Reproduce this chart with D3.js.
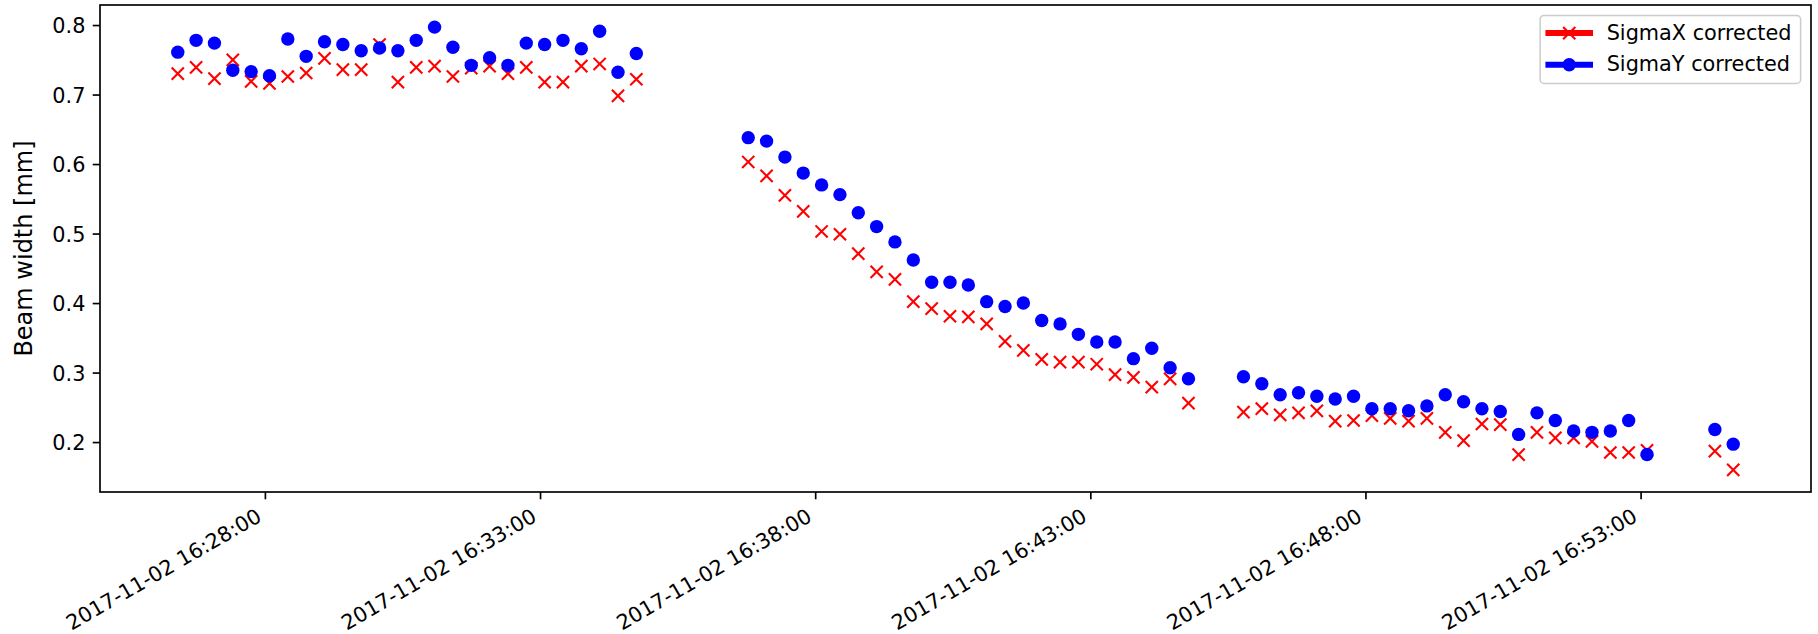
<!DOCTYPE html>
<html>
<head>
<meta charset="utf-8">
<script src="https://cdn.jsdelivr.net/npm/d3@7"></script>
<style>
  body { margin: 0; background: #fff; }
  svg text { font-family: 'DejaVu Sans', sans-serif; fill: #000; }
</style>
</head>
<body>
<div id="chart"></div>
<script>
// Beam width scan, 2017-11-02
const runDate = '2017-11-02';

const sampleTimes = [
  '16:26:25', '16:26:45', '16:27:05', '16:27:25', '16:27:45', '16:28:05', '16:28:25', '16:28:45',
  '16:29:05', '16:29:25', '16:29:45', '16:30:05', '16:30:25', '16:30:45', '16:31:05', '16:31:25',
  '16:31:45', '16:32:05', '16:32:25', '16:32:45', '16:33:05', '16:33:25', '16:33:45', '16:34:05',
  '16:34:25', '16:34:45',
  '16:36:47', '16:37:07', '16:37:27', '16:37:47', '16:38:07', '16:38:27', '16:38:47', '16:39:07',
  '16:39:27', '16:39:47', '16:40:07', '16:40:27', '16:40:47', '16:41:07', '16:41:27', '16:41:47',
  '16:42:07', '16:42:27', '16:42:47', '16:43:07', '16:43:27', '16:43:47', '16:44:07', '16:44:27',
  '16:44:47',
  '16:45:47', '16:46:07', '16:46:27', '16:46:47', '16:47:07', '16:47:27', '16:47:47', '16:48:07',
  '16:48:27', '16:48:47', '16:49:07', '16:49:27', '16:49:47', '16:50:07', '16:50:27', '16:50:47',
  '16:51:07', '16:51:27', '16:51:47', '16:52:07', '16:52:27', '16:52:47', '16:53:07',
  '16:54:21', '16:54:41'
];

const sigmaX = [
  0.730, 0.739, 0.723, 0.750, 0.719, 0.716, 0.726, 0.731, 0.752, 0.736, 0.736, 0.772, 0.718,
  0.739, 0.741, 0.726, 0.738, 0.741, 0.730, 0.739, 0.718, 0.718, 0.741, 0.744, 0.698, 0.722,
  0.603, 0.583, 0.555, 0.532, 0.503, 0.499, 0.471, 0.445, 0.434, 0.402, 0.392, 0.381, 0.380,
  0.370, 0.345, 0.332, 0.319, 0.315, 0.315, 0.312, 0.297, 0.293, 0.279, 0.291, 0.256,
  0.243, 0.248, 0.239, 0.242, 0.245, 0.230, 0.231, 0.238, 0.234, 0.230, 0.234, 0.214, 0.202,
  0.226, 0.225, 0.182, 0.214, 0.206, 0.206, 0.201, 0.185, 0.185, 0.188,
  0.187, 0.160
];

const sigmaY = [
  0.761, 0.778, 0.774, 0.735, 0.733, 0.727, 0.780, 0.755, 0.776, 0.772, 0.763, 0.767, 0.763,
  0.778, 0.797, 0.768, 0.742, 0.753, 0.742, 0.774, 0.772, 0.778, 0.766, 0.791, 0.732, 0.759,
  0.638, 0.633, 0.610, 0.587, 0.570, 0.556, 0.530, 0.510, 0.488, 0.462, 0.430, 0.430, 0.426,
  0.402, 0.395, 0.400, 0.375, 0.370, 0.355, 0.344, 0.344, 0.320, 0.335, 0.307, 0.291,
  0.294, 0.284, 0.268, 0.271, 0.266, 0.262, 0.266, 0.248, 0.248, 0.245, 0.252, 0.268, 0.258,
  0.248, 0.244, 0.211, 0.242, 0.231, 0.216, 0.214, 0.216, 0.231, 0.182,
  0.218, 0.197
];

const xTickLabels = [
  '2017-11-02 16:28:00', '2017-11-02 16:33:00', '2017-11-02 16:38:00',
  '2017-11-02 16:43:00', '2017-11-02 16:48:00', '2017-11-02 16:53:00'
];
const yTickValues = [0.2, 0.3, 0.4, 0.5, 0.6, 0.7, 0.8];

const seriesNames = ['SigmaX corrected', 'SigmaY corrected'];
const seriesColors = ['#ff0000', '#0000ff'];
const yLabel = 'Beam width [mm]';

const BeamChart = {
  fontSize: 20.8,
  labelSize: 24,

  render() {
    const W = 1818, H = 634;
    const margin = { top: 5, right: 7, bottom: 142, left: 100 };
    const width = W - margin.left - margin.right;
    const height = H - margin.top - margin.bottom;
    const fs = this.fontSize;

    const parse = d3.timeParse('%Y-%m-%d %H:%M:%S');
    const times = sampleTimes.map(t => parse(runDate + ' ' + t));
    const series = [sigmaX, sigmaY].map((vals, k) => ({
      name: seriesNames[k],
      color: seriesColors[k],
      points: vals.map((v, i) => ({ t: times[i], v }))
    }));

    // matplotlib-style 5% margins
    const [t0, t1] = d3.extent(times);
    const tPad = (t1 - t0) * 0.05;
    const [v0, v1] = d3.extent(sigmaX.concat(sigmaY));
    const vPad = (v1 - v0) * 0.05;

    const x = d3.scaleTime()
      .domain([new Date(+t0 - tPad), new Date(+t1 + tPad)])
      .range([0, width]);
    const y = d3.scaleLinear()
      .domain([v0 - vPad, v1 + vPad])
      .range([height, 0]);

    const svg = d3.select('#chart')
      .append('svg')
      .attr('width', W)
      .attr('height', H);

    const g = svg.append('g')
      .attr('transform', `translate(${margin.left},${margin.top})`);

    // X axis
    const tickLen = 7.3;
    const xAxis = g.append('g')
      .attr('transform', `translate(0,${height})`)
      .call(d3.axisBottom(x)
        .tickValues(xTickLabels.map(s => parse(s)))
        .tickFormat(d3.timeFormat('%Y-%m-%d %H:%M:%S'))
        .tickSize(tickLen)
        .tickSizeOuter(0));
    xAxis.select('.domain').remove();
    xAxis.selectAll('.tick line').attr('stroke', '#000').attr('stroke-width', 1.67);
    xAxis.selectAll('.tick text')
      .attr('x', 0)
      .attr('y', 0)
      .attr('dy', null)
      .attr('text-anchor', 'end')
      .attr('transform', `translate(${-0.24 * fs * 0.5},${tickLen * 2 + 0.76 * fs * 0.866}) rotate(-30)`)
      .style('font-size', fs + 'px')
      .style('fill', '#000');

    // Y axis
    const yAxis = g.append('g')
      .call(d3.axisLeft(y)
        .tickValues(yTickValues)
        .tickFormat(d3.format('.1f'))
        .tickSize(tickLen)
        .tickPadding(tickLen)
        .tickSizeOuter(0));
    yAxis.select('.domain').remove();
    yAxis.selectAll('.tick line').attr('stroke', '#000').attr('stroke-width', 1.67);
    yAxis.selectAll('.tick text')
      .attr('dy', '0.36em')
      .style('font-size', fs + 'px')
      .style('fill', '#000');

    // Y axis label
    g.append('text')
      .attr('transform', `translate(${32 - margin.left},${height / 2}) rotate(-90)`)
      .attr('text-anchor', 'middle')
      .style('font-size', this.labelSize + 'px')
      .text(yLabel);

    // markers
    const crossPath = s => `M${-s},${-s}L${s},${s}M${-s},${s}L${s},${-s}`;
    const markerR = 6.7;

    const plot = g.append('g');

    // SigmaX: crosses
    plot.selectAll('.mx')
      .data(series[0].points)
      .enter().append('path')
      .attr('class', 'mx')
      .attr('transform', d => `translate(${x(d.t)},${y(d.v)})`)
      .attr('d', crossPath(markerR - 0.6))
      .attr('stroke', series[0].color)
      .attr('stroke-width', 2.1)
      .attr('fill', 'none');

    // SigmaY: filled circles
    plot.selectAll('.my')
      .data(series[1].points)
      .enter().append('circle')
      .attr('class', 'my')
      .attr('cx', d => x(d.t))
      .attr('cy', d => y(d.v))
      .attr('r', markerR)
      .attr('fill', series[1].color);

    // Frame
    g.append('rect')
      .attr('width', width)
      .attr('height', height)
      .attr('fill', 'none')
      .attr('stroke', '#000')
      .attr('stroke-width', 1.67);

    // Legend
    const legend = svg.append('g')
      .attr('transform', `translate(${margin.left + width - 0.5 * fs - 260.5},${margin.top + 0.5 * fs})`);

    legend.append('rect')
      .attr('width', 260.5)
      .attr('height', 68)
      .attr('rx', 4)
      .attr('fill', '#fff')
      .attr('fill-opacity', 0.8)
      .attr('stroke', '#cccccc')
      .attr('stroke-width', 1.5);

    const x0 = 0.4 * fs, x1 = x0 + 2 * fs, xm = (x0 + x1) / 2;
    const rows = legend.selectAll('.leg-row')
      .data(series)
      .enter().append('g')
      .attr('class', 'leg-row')
      .attr('transform', (d, i) => `translate(0,${17.7 + i * 31.6})`);

    rows.append('line')
      .attr('x1', x0).attr('x2', x1)
      .attr('stroke', d => d.color)
      .attr('stroke-width', 6)
      .attr('stroke-linecap', 'square');

    rows.filter((d, i) => i === 0).append('path')
      .attr('transform', `translate(${xm},0)`)
      .attr('d', crossPath(markerR - 0.6))
      .attr('stroke', d => d.color)
      .attr('stroke-width', 2.1);

    rows.filter((d, i) => i === 1).append('circle')
      .attr('cx', xm)
      .attr('r', markerR)
      .attr('fill', d => d.color);

    rows.append('text')
      .attr('x', x1 + 0.8 * fs)
      .attr('dy', '0.32em')
      .style('font-size', fs + 'px')
      .text(d => d.name);
  }
};

BeamChart.render();
</script>
</body>
</html>
